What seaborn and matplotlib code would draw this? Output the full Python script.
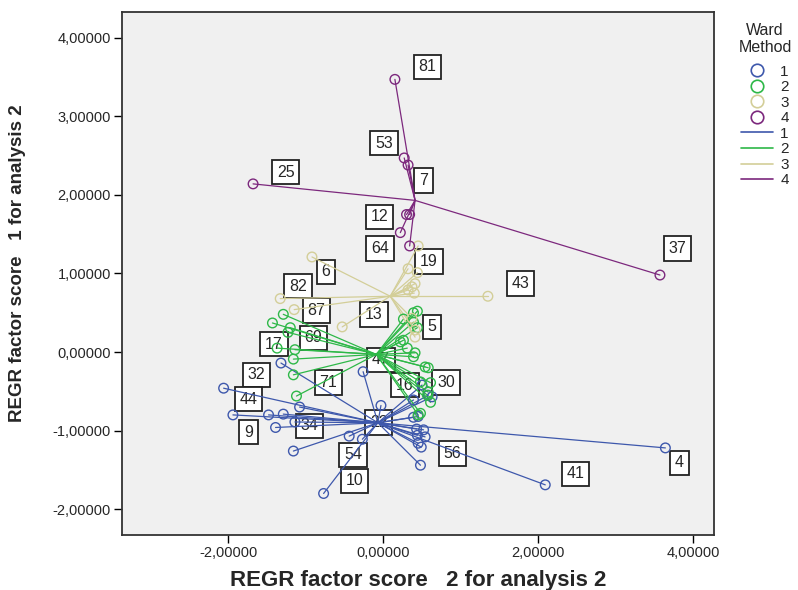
import matplotlib
matplotlib.use('Agg')
import matplotlib.pyplot as plt
import pandas as pd
import seaborn as sns
from matplotlib.lines import Line2D
from matplotlib.ticker import FuncFormatter

# factor scores per Ward cluster (x = score 2, y = score 1)
c1_x = [-1.32, -0.26, -2.06, -1.08, -0.03, -1.94, -1.48, -1.29, -1.39, -1.14, -0.44, -0.27,
        -1.16, -0.77, 0.48, 0.50, 0.58, 0.63, 0.39, 0.39, 0.45, 0.43, 0.52, 0.54, 0.44, 0.45,
        0.49, 2.09, 3.64]
c1_y = [-0.14, -0.25, -0.46, -0.70, -0.68, -0.80, -0.80, -0.79, -0.96, -0.89, -1.07, -1.11,
        -1.26, -1.80, -1.44, -0.42, -0.55, -0.57, -0.61, -0.83, -0.82, -0.98, -0.99, -1.08,
        -1.06, -1.16, -1.21, -1.69, -1.22]
c2_x = [0.44, 0.39, 0.26, 0.39, 0.44, 0.26, 0.31, 0.41, 0.39, 0.22, 0.54, 0.58, 0.48, 0.61,
        0.58, 0.57, 0.61, 0.45, 0.48, -1.29, -1.43, -1.20, -1.23, -1.14, -1.16, -1.16, -1.12,
        -1.37]
c2_y = [0.52, 0.50, 0.42, 0.38, 0.31, 0.15, 0.05, -0.01, -0.06, 0.13, -0.19, -0.20, -0.38,
        -0.39, -0.51, -0.55, -0.64, -0.80, -0.78, 0.48, 0.37, 0.31, 0.25, 0.03, -0.09, -0.29,
        -0.56, 0.05]
c3_x = [0.45, 0.32, 0.44, 0.41, 0.37, 0.32, 0.40, -0.92, -1.33, -1.15, -0.53, 1.35, 0.37,
        0.41, 0.41]
c3_y = [1.35, 1.06, 1.01, 0.87, 0.83, 0.79, 0.75, 1.21, 0.68, 0.54, 0.32, 0.71, 0.43,
        0.28, 0.19]
c4_x = [0.15, 0.27, 0.32, 0.30, 0.34, 0.22, 0.34, -1.68, 3.57]
c4_y = [3.47, 2.47, 2.38, 1.75, 1.75, 1.52, 1.35, 2.14, 0.98]

# cluster centroids as shown in the chart
cent_x = [-0.07, -0.09, 0.09, 0.41]
cent_y = [-0.90, -0.03, 0.71, 1.93]

# case labels
lab_text = ['81', '53', '7', '25', '12', '64', '37', '19', '6', '43', '82', '87', '13', '5',
            '17', '69', '47', '32', '71', '16', '30', '44', '22', '34', '9', '54', '56', '10',
            '41', '4']
lab_x = [0.57, 0.01, 0.52, -1.26, -0.05, -0.04, 3.80, 0.59, -0.74, 1.77, -1.10, -0.86, -0.12,
         0.63, -1.41, -0.90, -0.03, -1.64, -0.71, 0.28, 0.81, -1.74, -0.06, -0.95, -1.74,
         -0.39, 0.89, -0.37, 2.48, 3.82]
lab_y = [3.63, 2.66, 2.18, 2.29, 1.72, 1.32, 1.32, 1.15, 1.02, 0.87, 0.84, 0.53, 0.48, 0.32,
         0.10, 0.18, -0.10, -0.29, -0.39, -0.42, -0.39, -0.60, -0.90, -0.94, -1.02, -1.31,
         -1.29, -1.64, -1.55, -1.41]

clusters = ['1', '2', '3', '4']
colors = ['#3e58ac', '#2eb848', '#d3ce98', '#7c287d']

frames = []
for k, xs, ys in zip(clusters, [c1_x, c2_x, c3_x, c4_x], [c1_y, c2_y, c3_y, c4_y]):
    frames.append(pd.DataFrame({'f2': xs, 'f1': ys, 'ward': k}))
df = pd.concat(frames, ignore_index=True)

sns.set_style('white')
plt.rcParams['font.family'] = ['Liberation Sans', 'DejaVu Sans']

fig = plt.figure(figsize=(7.98, 5.9), dpi=100)
ax = fig.add_axes([0.153, 0.093, 0.742, 0.887])
ax.set_facecolor('#f0f0f0')

# spikes to centroid
for i, k in enumerate(clusters):
    sub = df[df['ward'] == k]
    for _, r in sub.iterrows():
        ax.plot([r['f2'], cent_x[i]], [r['f1'], cent_y[i]], color=colors[i], lw=0.9, zorder=3)

sns.scatterplot(data=df, x='f2', y='f1', hue='ward', palette=colors, hue_order=clusters,
                marker='o', s=48, linewidth=1.0, legend=False, ax=ax, zorder=4)
# hollow circles
for coll in ax.collections:
    fc = coll.get_facecolors()
    if len(fc):
        coll.set_edgecolors(fc)
        coll.set_facecolors('none')

for t, x, y in zip(lab_text, lab_x, lab_y):
    ax.text(x, y, t, ha='center', va='center', fontsize=11.5, zorder=2,
            bbox=dict(boxstyle='square,pad=0.3', fc='white', ec='#222222', lw=1.3))

ax.set_xlim(-3.37, 4.27)
ax.set_ylim(-2.33, 4.33)
ax.set_xticks([-2, 0, 2, 4])
ax.set_yticks([-2, -1, 0, 1, 2, 3, 4])
fmt = FuncFormatter(lambda v, p: f'{v:.5f}'.replace('.', ','))
ax.xaxis.set_major_formatter(fmt)
ax.yaxis.set_major_formatter(fmt)
ax.tick_params(axis='both', direction='out', length=6, width=1, labelsize=10.5, color='black',
               bottom=True, left=True, pad=2)
for s in ax.spines.values():
    s.set_color('#333333')
    s.set_linewidth(1.3)

ax.set_xlabel('REGR factor score   2 for analysis 2', fontsize=16, fontweight='bold', labelpad=7)
ax.set_ylabel('REGR factor score   1 for analysis 2', fontsize=13.5, fontweight='bold')
ax.yaxis.set_label_coords(-0.162, 0.52)

handles = [Line2D([], [], marker='o', ls='', mfc='none', mec=c, ms=9, mew=1.2) for c in colors]
handles += [Line2D([], [], color=c, lw=1.2) for c in colors]
leg = fig.legend(handles, clusters + clusters, title='Ward\nMethod', loc='upper left',
                 bbox_to_anchor=(0.908, 0.985), frameon=False, fontsize=11, title_fontsize=11.5,
                 handlelength=2.1, labelspacing=0.1, handletextpad=0.45)
leg.get_title().set_multialignment('center')
leg._legend_box.sep = 7

fig.savefig('out.png', dpi=100)
